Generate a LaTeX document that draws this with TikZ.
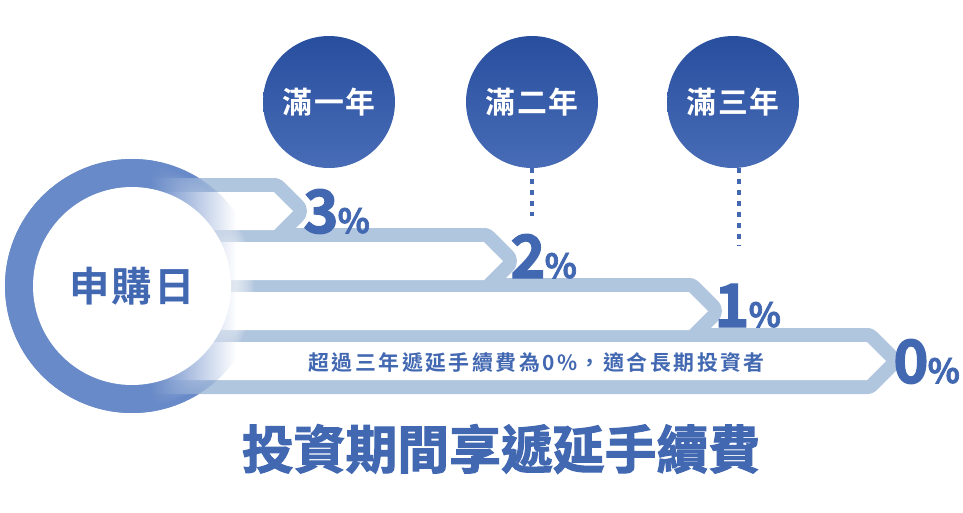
\documentclass[tikz,border=0pt]{standalone}
\usepackage{fontspec}
\usepackage{xcolor}
\usetikzlibrary{fadings}
\newfontfamily\cjk{Noto Sans CJK TC}
\newfontfamily\cjkb{Noto Sans CJK TC Bold}
\newfontfamily\cjkh{Noto Sans CJK TC Bold}[FakeBold=2]

\definecolor{ringblue}{RGB}{104,138,200}
\definecolor{bandblue}{RGB}{176,197,222}
\definecolor{textblue}{RGB}{66,104,178}
\definecolor{yeartop}{RGB}{40,78,158}
\definecolor{yearbot}{RGB}{72,108,182}

\tikzfading[name=ringfade, left color=transparent!0, right color=transparent!100]

% band outline: top edge of the white part, x of the tip
\newcommand\bandshape[2]{(90,#1) -- ({#2-19},#1) -- (#2,{#1+19}) -- ({#2-19},{#1+38}) -- (90,{#1+38}) -- cycle}
\newcommand\pctlabel[1]{{\fontsize{34}{34}\selectfont #1}\kern-0.5pt{\fontsize{19}{19}\selectfont\%}}

\begin{document}
\begin{tikzpicture}[x=0.02cm, y=-0.02cm,
      yearnode/.style={circle, minimum size=2.64cm, inner sep=0pt, top color=yeartop, bottom color=yearbot,
                       text=white, font=\cjkb\fontsize{17}{17}\selectfont\addfontfeatures{LetterSpace=6}},
      startnode/.style={circle, fill=white, minimum size=3.96cm, inner sep=0pt, text=textblue,
                        font=\cjkb\fontsize{23}{23}\selectfont\addfontfeatures{LetterSpace=5}},
      dotline/.style={draw=textblue, line width=0.07cm, dash pattern=on 0.09cm off 0.13cm},
      bandline/.style={draw=bandblue, line width=0.56cm, line join=round},
      pctnode/.style={anchor=base west, inner sep=0pt, text=textblue, font=\cjkh},
      notetext/.style={anchor=west, inner sep=0pt, text=textblue,
                       font=\cjkb\fontsize{11.9}{12}\selectfont\addfontfeatures{LetterSpace=12}},
      titletext/.style={inner sep=0pt, text=textblue, font=\cjkh\fontsize{29.5}{30}\selectfont}
    ]
    \fill[white] (0,0) rectangle (963,512);
    \useasboundingbox (0,0) rectangle (963,512);

    % Ring
    \coordinate (ctr) at (132,286);
    \fill[ringblue] (ctr) circle (2.54cm);

    % Bänder
    \draw[bandline] \bandshape{192}{293};
    \draw[bandline] \bandshape{242}{503};
    \draw[bandline] \bandshape{292}{708};
    \draw[bandline] \bandshape{342}{886};
    \fill[white] \bandshape{192}{293};
    \fill[white] \bandshape{242}{503};
    \fill[white] \bandshape{292}{708};
    \fill[white] \bandshape{342}{886};

    % Schein
    \foreach \r in {2.0,2.04,...,2.44}
      \fill[white, opacity=0.1] (ctr) circle (\r cm);

    % Ring links deckend
    \begin{scope}
      \clip (ctr) circle (2.54cm);
      \fill[ringblue] (0,150) rectangle (151,420);
      \fill[ringblue, path fading=ringfade] (150,150) rectangle (236,420);
    \end{scope}

    \node[startnode] (start) at (ctr) {申購日};

    % Jahre
    \node[yearnode] (y1) at (329,102) {滿一年};
    \node[yearnode] (y2) at (532,102) {滿二年};
    \node[yearnode] (y3) at (733,102) {滿三年};
    \coordinate (d2) at (532,216);
    \coordinate (d3) at (739,246);
    \draw[dotline] (y2.south) -- (d2);
    \draw[dotline] (y3.south -| d3) -- (d3);

    % Gebühren
    \node[pctnode] (p3) at (303,233) {\pctlabel{3}};
    \node[pctnode] (p2) at (510,278) {\pctlabel{2}};
    \node[pctnode] (p1) at (714,327) {\pctlabel{1}};
    \node[pctnode] (p0) at (893,383) {\pctlabel{0}};

    \node[notetext] (note) at (308,362) {超過三年遞延手續費為0\%，適合長期投資者};
    \node[titletext] (title) at (501,449) {投資期間享遞延手續費};
  \end{tikzpicture}
\end{document}
